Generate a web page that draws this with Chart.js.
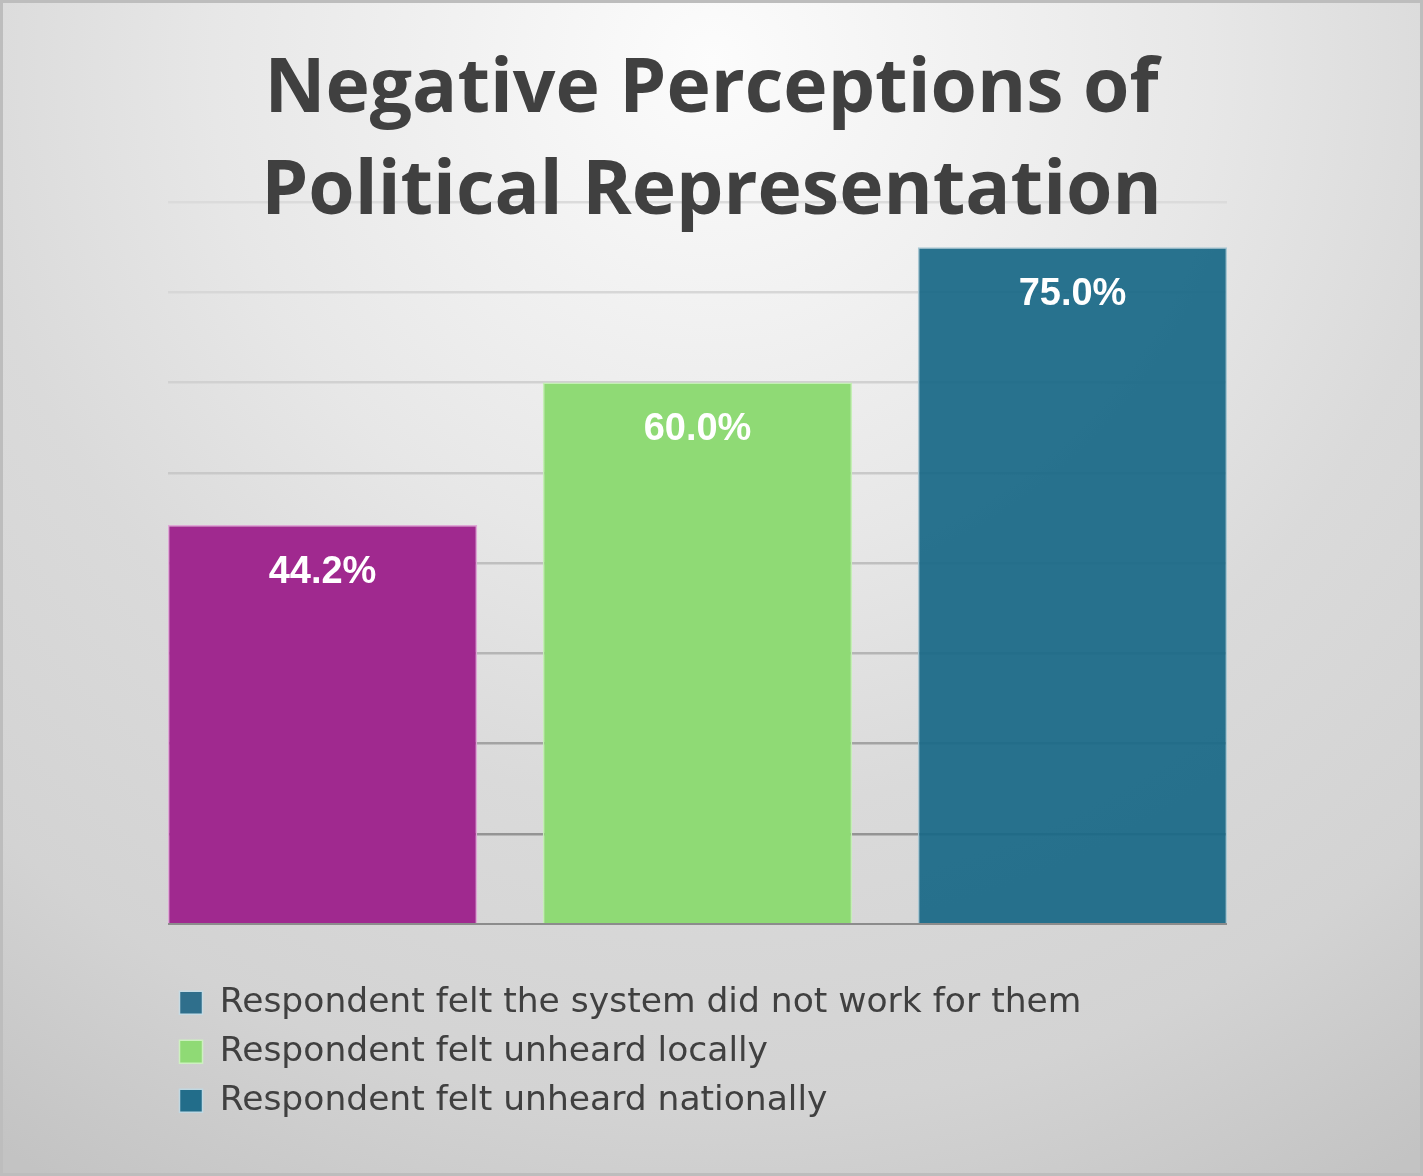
<!DOCTYPE html>
<html>
<head>
<meta charset="utf-8">
<script src="https://cdn.jsdelivr.net/npm/chart.js@4"></script>
<style>
    body { margin: 0; }
    .chart-wrap {
        position: relative;
        width: 1423px;
        height: 1176px;
        background: radial-gradient(circle at 712px 60px, #fcfcfc 0px, #e7e7e7 500px, #dadada 750px, #d3d3d3 1050px, #c3c3c3 1300px);
        box-shadow: inset 0 0 0 3px #bdbdbd;
    }
    canvas { position: absolute; left: 0; top: 0; }
</style>
</head>
<body>
<div class="chart-wrap">
    <canvas id="perceptions" width="1423" height="1176"></canvas>
</div>
<script>
// 資料
const titleLines = ['Negative Perceptions of', 'Political Representation'];
const categories = [
    'Respondent felt the system did not work for them',
    'Respondent felt unheard locally',
    'Respondent felt unheard nationally'
];
const values = [44.2, 60.0, 75.0];
const barColors = ['#a0298f', '#8fda75', 'rgba(25, 104, 134, 0.93)'];
const barBorders = ['#dfa6d6', '#c4efb4', '#a9c7d3'];
const legendColors = ['#2f6f8c', '#8fda75', '#226d8a'];
const legendBorders = ['#c6dbe4', '#cdf0c0', '#c0d8e2'];

// 格線顏色 (越下面越深)
const gridColors = {
    0: '#8c8c8c', 10: '#949494', 20: '#a3a3a3', 30: '#b5b5b5', 40: '#bfbfbf',
    50: '#c9c9c9', 60: '#d1d1d1', 70: '#d7d7d7', 80: '#dbdbdb'
};

// 柱子上的百分比
const valueLabels = {
    id: 'valueLabels',
    afterDatasetsDraw(chart) {
        const ctx = chart.ctx;
        const meta = chart.getDatasetMeta(0);
        ctx.save();
        ctx.font = 'bold 38px "Liberation Sans", Arial, sans-serif';
        ctx.fillStyle = '#ffffff';
        ctx.textAlign = 'center';
        ctx.textBaseline = 'middle';
        meta.data.forEach((bar, i) => {
            ctx.fillText(values[i].toFixed(1) + '%', bar.x, bar.y + 47);
        });
        ctx.restore();
    }
};

// legend 往左一點
const legendShift = {
    id: 'legendShift',
    afterLayout(chart) {
        chart.legend.left -= 3;
        chart.legend.right -= 3;
    }
};

let ctx = document.getElementById('perceptions');
new Chart(ctx, {
    type: 'bar',
    data: {
        datasets: [{
            data: values.map((v, i) => ({ x: i, y: v })),
            backgroundColor: barColors,
            borderColor: barBorders,
            borderWidth: 1.5,
            categoryPercentage: 1,
            barPercentage: 0.825
        }]
    },
    options: {
        responsive: false,
        animation: false,
        layout: {
            padding: { top: 0, left: 168, right: 168, bottom: 48 }
        },
        scales: {
            x: {
                type: 'linear',
                offset: false,
                min: -0.412,
                max: 2.412,
                grid: { display: false },
                border: { display: false },
                ticks: { display: false },
                afterBuildTicks: (axis) => {
                    axis.ticks = values.map((v, i) => ({ value: i }));
                },
                afterFit: (axis) => {
                    axis.height = 47;
                }
            },
            y: {
                min: 0,
                max: 80,
                ticks: { display: false, stepSize: 10 },
                border: { display: false },
                grid: {
                    drawTicks: false,
                    lineWidth: (c) => c.tick.value === 0 ? 2 : 2.5,
                    color: (c) => gridColors[c.tick.value] || '#cccccc'
                },
                afterFit: (axis) => {
                    axis.width = 0;
                }
            },
            // 右邊留空
            yRight: {
                position: 'right',
                min: 0,
                max: 80,
                ticks: { display: false },
                border: { display: false },
                grid: { display: false },
                afterFit: (axis) => {
                    axis.width = 28;
                }
            }
        },
        plugins: {
            title: {
                display: true,
                text: titleLines,
                color: '#404040',
                font: { family: '"Open Sans", sans-serif', size: 75, weight: 'bold', lineHeight: 1.36 },
                padding: { top: 40, bottom: -42 }
            },
            legend: {
                display: true,
                position: 'bottom',
                align: 'start',
                fullSize: false,
                labels: {
                    color: '#404040',
                    font: { family: '"DejaVu Sans", sans-serif', size: 34.5 },
                    boxWidth: 23,
                    boxHeight: 23,
                    padding: 14.5,
                    generateLabels: () => categories.map((name, i) => ({
                        text: name,
                        fillStyle: legendColors[i],
                        strokeStyle: legendBorders[i],
                        lineWidth: 1.5,
                        fontColor: '#404040',
                        hidden: false,
                        index: i
                    }))
                }
            },
            tooltip: { enabled: false }
        }
    },
    plugins: [valueLabels, legendShift]
});
</script>
</body>
</html>
